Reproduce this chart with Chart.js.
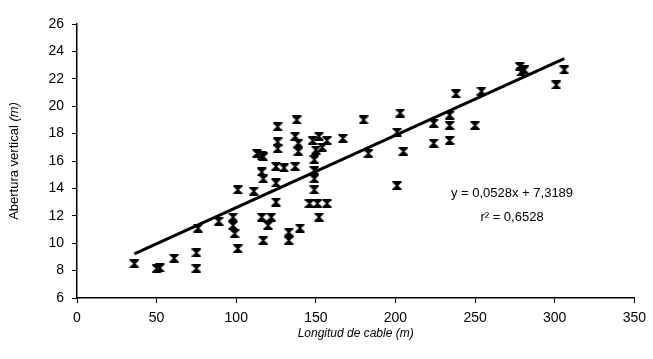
<!DOCTYPE html>
<html>
<head>
<meta charset="utf-8">
<script src="https://cdn.jsdelivr.net/npm/chart.js@4"></script>
<style>
  html, body { margin: 0; padding: 0; background: #fff; }
  #wrap { width: 653px; height: 359px; }
</style>
</head>
<body>
<div id="wrap"><canvas id="myChart" width="653" height="359"></canvas></div>
<script>
// Datos
const longitud = [36, 50, 52, 61, 75, 75, 76, 89, 98, 98, 99, 101, 101, 111, 113, 117, 116, 117, 126, 126, 126, 138, 137, 139, 139, 125, 130, 137, 125, 125, 116, 122, 120, 117, 133, 133, 140, 148, 152, 157, 150, 154, 149, 149, 149, 149, 146, 151, 157, 152, 167, 180, 183, 203, 201, 205, 201, 224, 224, 234, 234, 234, 238, 250, 254, 278, 281, 279, 306, 301, 116];
const abertura = [8.5, 8.15, 8.2, 8.9, 9.3, 8.15, 11.1, 11.6, 11.9, 11.3, 10.7, 9.6, 13.9, 13.8, 16.55, 16.3, 15.2, 14.7, 18.5, 17.4, 16.9, 19.0, 17.8, 17.3, 16.7, 15.6, 15.5, 15.6, 14.4, 13.0, 11.9, 11.9, 11.3, 10.2, 10.8, 10.2, 11.1, 17.5, 17.8, 17.5, 16.8, 17.0, 16.1, 15.3, 14.7, 13.9, 12.9, 12.9, 12.9, 11.9, 17.65, 19.0, 16.55, 19.5, 18.1, 16.7, 14.2, 18.75, 17.3, 19.35, 18.6, 17.5, 20.9, 18.6, 21.1, 22.9, 22.65, 22.5, 22.65, 21.55, 16.4];

// Recta de regresión
const pendiente = 0.0528;
const ordenada = 7.3189;
const ecuacion = "y = 0,0528x + 7,3189";
const r2Texto = "r\u00B2 = 0,6528";

const xTicks = [0, 50, 100, 150, 200, 250, 300, 350];
const yTicks = [6, 8, 10, 12, 14, 16, 18, 20, 22, 24, 26];

const puntos = longitud.map((x, i) => ({ x: x, y: abertura[i] }));
const xMin = Math.min(...longitud);
const xMax = Math.max(...longitud);
const recta = [xMin, xMax].map(x => ({ x: x, y: pendiente * x + ordenada }));

// Marcador tipo "X" con barras arriba y abajo
function crearMarcador() {
  const c = document.createElement('canvas');
  c.width = 10; c.height = 9;
  const g = c.getContext('2d');
  g.fillStyle = '#000';
  g.fillRect(1, 0, 8, 1.5);
  g.fillRect(1, 7.5, 8, 1.5);
  g.beginPath();
  g.moveTo(2, 1); g.lineTo(8, 1); g.lineTo(5.8, 4.5); g.lineTo(8, 8);
  g.lineTo(2, 8); g.lineTo(4.2, 4.5); g.closePath();
  g.fill();
  g.strokeStyle = '#000';
  g.lineWidth = 1.5;
  g.beginPath();
  g.moveTo(0.5, 0.5); g.lineTo(9.5, 8.5);
  g.moveTo(9.5, 0.5); g.lineTo(0.5, 8.5);
  g.stroke();
  return c;
}
const marcador = crearMarcador();

// Títulos de ejes y ecuación
const textos = {
  id: 'textos',
  afterDraw(chart) {
    const g = chart.ctx;
    const area = chart.chartArea;
    g.save();
    g.fillStyle = '#000';
    g.textBaseline = 'middle';

    // título eje X (cursiva)
    g.font = 'italic 12px "Liberation Sans", Arial, sans-serif';
    g.textAlign = 'center';
    g.fillText('Longitud de cable (m)', (area.left + area.right) / 2, 334);

    // título eje Y
    g.translate(14, (area.top + area.bottom) / 2);
    g.rotate(-Math.PI / 2);
    const a = 'Abertura vertical ';
    const b = '(m)';
    g.font = '13px "Liberation Sans", Arial, sans-serif';
    const wa = g.measureText(a).width;
    g.font = 'italic 13px "Liberation Sans", Arial, sans-serif';
    const wb = g.measureText(b).width;
    g.textAlign = 'left';
    g.font = '13px "Liberation Sans", Arial, sans-serif';
    g.fillText(a, -(wa + wb) / 2, 0);
    g.font = 'italic 13px "Liberation Sans", Arial, sans-serif';
    g.fillText(b, -(wa + wb) / 2 + wa, 0);
    g.restore();

    // ecuación
    g.save();
    g.fillStyle = '#000';
    g.textAlign = 'center';
    g.textBaseline = 'middle';
    g.font = '13px "Liberation Sans", Arial, sans-serif';
    g.fillText(ecuacion, 512, 193);
    g.fillText(r2Texto, 512, 217);
    g.restore();
  }
};

const ctx = document.getElementById('myChart').getContext('2d');
const myChart = new Chart(ctx, {
  type: 'scatter',
  data: {
    datasets: [
      {
        label: 'Datos',
        data: puntos,
        pointStyle: marcador,
        pointRadius: 5,
        pointHoverRadius: 5,
        backgroundColor: '#000',
        borderColor: '#000',
        order: 2
      },
      {
        label: 'Regresión',
        type: 'line',
        data: recta,
        borderColor: '#000',
        borderWidth: 3,
        pointRadius: 0,
        fill: false,
        order: 1
      }
    ]
  },
  options: {
    responsive: false,
    animation: false,
    layout: { padding: { top: 24, right: 16, left: 0, bottom: 0 } },
    plugins: {
      legend: { display: false },
      tooltip: { enabled: false }
    },
    scales: {
      x: {
        type: 'linear',
        min: 0,
        max: 350,
        afterBuildTicks: s => { s.ticks = xTicks.map(v => ({ value: v })); },
        afterFit: s => { s.height = 61; },
        border: { color: '#000', width: 1.5 },
        grid: { drawOnChartArea: false, drawTicks: true, tickLength: 5, color: '#000', lineWidth: 1 },
        ticks: {
          color: '#000',
          padding: 7,
          maxRotation: 0,
          font: { family: '"Liberation Sans", Arial, sans-serif', size: 14 }
        }
      },
      y: {
        type: 'linear',
        min: 6,
        max: 26,
        afterBuildTicks: s => { s.ticks = yTicks.map(v => ({ value: v })); },
        afterFit: s => { s.width = 77; },
        border: { color: '#000', width: 1.5 },
        grid: { drawOnChartArea: false, drawTicks: true, tickLength: 5, color: '#000', lineWidth: 1 },
        ticks: {
          color: '#000',
          padding: 8,
          font: { family: '"Liberation Sans", Arial, sans-serif', size: 14 }
        }
      }
    }
  },
  plugins: [textos]
});
</script>
</body>
</html>
